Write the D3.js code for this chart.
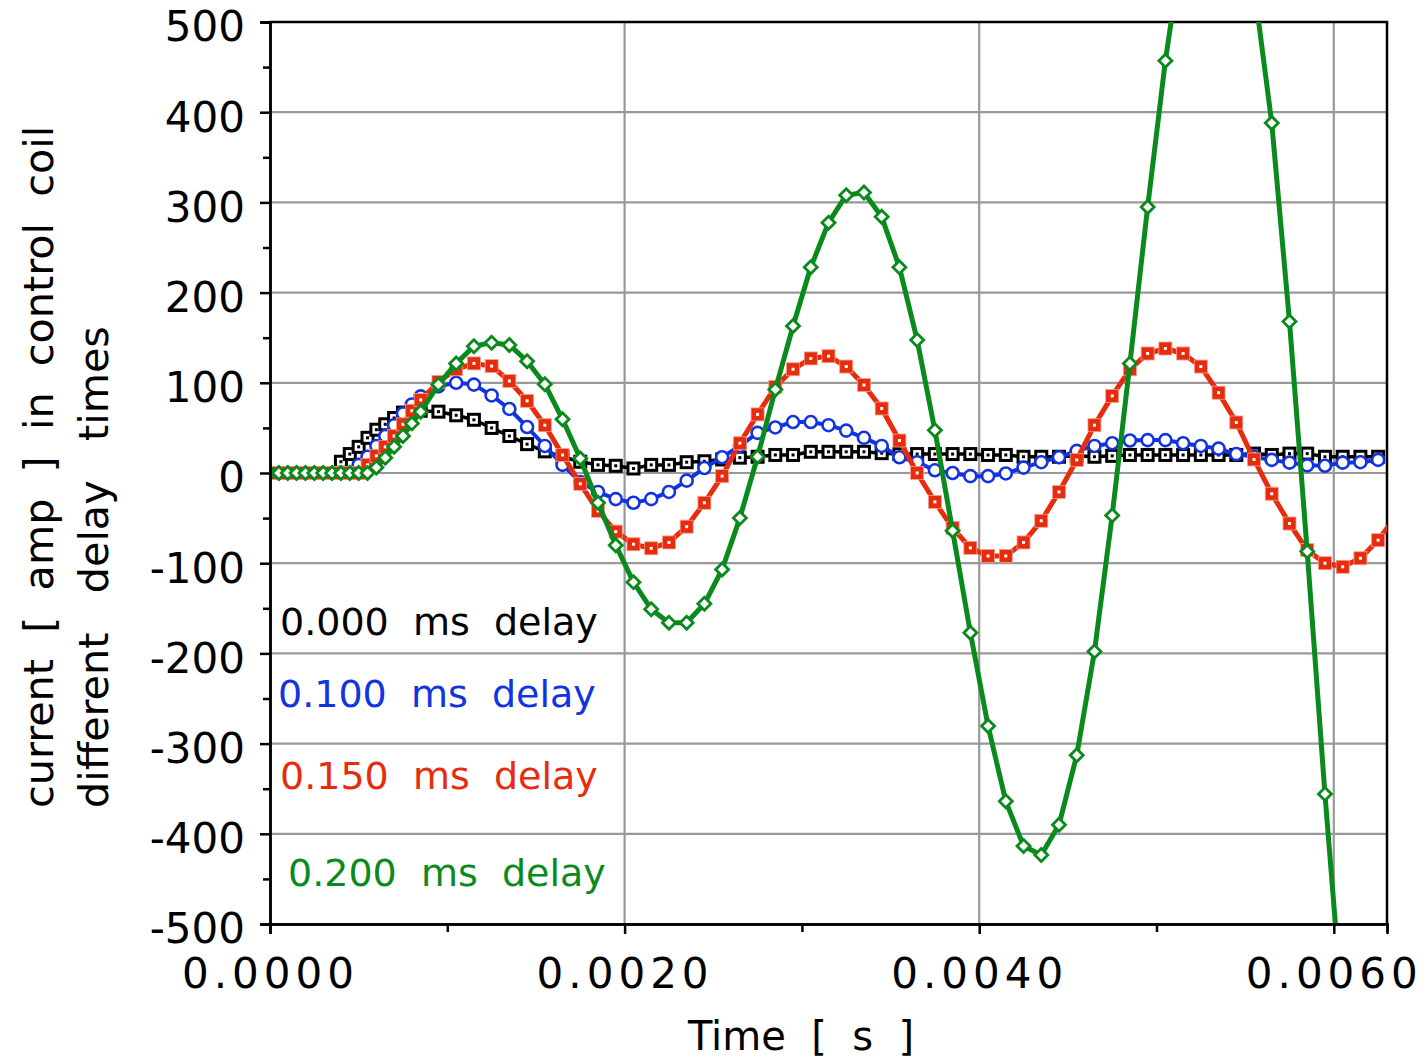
<!DOCTYPE html>
<html>
<head>
<meta charset="utf-8">
<script src="https://cdn.jsdelivr.net/npm/d3@7"></script>
<style>
  body { margin: 0; background: #fff; }
  text { font-family: "DejaVu Sans", sans-serif; white-space: pre; }
</style>
</head>
<body>
<div id="chart"></div>
<script>
// time in ms, current in amp
const delay000 = [
  [0,0],[0.05,0],[0.1,0],[0.15,0],[0.2,0],[0.25,0],[0.3,0],[0.35,0],
  [0.4,12.5],[0.45,21],[0.5,29],[0.55,39],[0.6,48],[0.65,54],[0.7,61],[0.75,67],
  [0.85,69],[0.95,68],[1.05,64],[1.15,59],[1.25,50],[1.35,41],[1.45,32],[1.55,24],[1.65,18],[1.75,12.5],
  [1.85,9],[1.95,8],[2.05,5],[2.15,9],[2.25,9],[2.35,12],[2.45,13],[2.55,15],[2.65,17],[2.75,18],
  [2.85,20],[2.95,20],[3.05,23.5],[3.15,23.5],[3.25,23.5],[3.35,23.5],[3.45,22],[3.55,21],[3.65,21],[3.75,21],
  [3.85,21],[3.95,21],[4.05,20],[4.15,20],[4.25,18],[4.35,18],[4.45,18],[4.55,19],[4.65,18],[4.75,19],
  [4.85,20],[4.95,20],[5.05,20],[5.15,20],[5.25,20],[5.35,20],[5.45,20],[5.55,21.5],[5.65,20],[5.75,21.5],
  [5.85,21.5],[5.95,18],[6.05,18],[6.15,18],[6.25,18]
];

const delay100 = [
  [0,0],[0.05,0],[0.1,0],[0.15,0],[0.2,0],[0.25,0],[0.3,0],[0.35,0],[0.4,0],[0.45,0],
  [0.5,9],[0.55,18],[0.6,30],[0.65,41],[0.7,53],[0.75,66],[0.8,76],[0.85,85],
  [0.95,96],[1.05,100],[1.15,98],[1.25,86],[1.35,71],[1.45,51],[1.55,30],[1.65,9],[1.75,-10],
  [1.85,-21],[1.95,-29],[2.05,-33],[2.15,-29],[2.25,-21],[2.35,-8.5],[2.45,5.5],[2.55,17.5],[2.65,30],[2.75,44.5],
  [2.85,50.5],[2.95,56.5],[3.05,56.5],[3.15,53],[3.25,47],[3.35,39],[3.45,30],[3.55,17.5],[3.65,12],[3.75,3],
  [3.85,0],[3.95,-3.5],[4.05,-3.5],[4.15,-0.5],[4.25,6],[4.35,12],[4.45,17.5],[4.55,24.5],[4.65,30],[4.75,33],
  [4.85,36],[4.95,36.5],[5.05,36.5],[5.15,33],[5.25,30],[5.35,27],[5.45,21],[5.55,18],[5.65,14.5],[5.75,11.5],
  [5.85,8.5],[5.95,8],[6.05,11.5],[6.15,12],[6.25,14.5]
];

const delay150 = [
  [0,0],[0.05,0],[0.1,0],[0.15,0],[0.2,0],[0.25,0],[0.3,0],[0.35,0],[0.4,0],[0.45,0],[0.5,0],
  [0.55,9],[0.6,19],[0.65,29],[0.7,41],[0.75,54],[0.8,69],[0.85,81],
  [0.95,101],[1.05,115],[1.15,121.5],[1.25,118.5],[1.35,102],[1.45,80],[1.55,53],[1.65,20],[1.75,-12],
  [1.85,-42],[1.95,-65],[2.05,-79],[2.15,-83.5],[2.25,-77],[2.35,-59.5],[2.45,-33],[2.55,-3.5],[2.65,33],[2.75,65],
  [2.85,95.5],[2.95,115],[3.05,127],[3.15,129.5],[3.25,118],[3.35,97.5],[3.45,71.5],[3.55,36],[3.65,0],[3.75,-32],
  [3.85,-61],[3.95,-83],[4.05,-92],[4.15,-92],[4.25,-77],[4.35,-53],[4.45,-21],[4.55,14.5],[4.65,53],[4.75,85.5],
  [4.85,115],[4.95,132.5],[5.05,138],[5.15,132.5],[5.25,118],[5.35,89],[5.45,56],[5.55,15],[5.65,-23],[5.75,-56],
  [5.85,-85.5],[5.95,-100],[6.05,-104],[6.15,-94.5],[6.25,-74.5],[6.35,-48]
];

const delay200 = [
  [0,0],[0.05,0],[0.1,0],[0.15,0],[0.2,0],[0.25,0],[0.3,0],[0.35,0],[0.4,0],[0.45,0],[0.5,0],[0.55,0],
  [0.6,6],[0.65,17],[0.7,29],[0.75,41],[0.8,55],[0.85,68],
  [0.95,98],[1.05,121.5],[1.15,140.5],[1.25,144.5],[1.35,142],[1.45,124],[1.55,98.5],[1.65,59.5],[1.75,16],
  [1.85,-33],[1.95,-80],[2.05,-121],[2.15,-151],[2.25,-166],[2.35,-166],[2.45,-145],[2.55,-107],[2.65,-50],[2.75,18],
  [2.85,92.5],[2.95,163],[3.05,228],[3.15,277.5],[3.25,308],[3.35,311],[3.45,284],[3.55,228],[3.65,147.5],[3.75,47.5],
  [3.85,-64],[3.95,-177],[4.05,-280.5],[4.15,-364],[4.25,-413.5],[4.35,-423.5],[4.45,-390],[4.55,-313],[4.65,-198],[4.75,-47],
  [4.85,121.5],[4.95,295],[5.05,457],[5.15,590],[5.25,660],[5.35,680],[5.45,640],[5.55,540],[5.65,388],[5.75,168],
  [5.85,-87],[5.95,-356],[6.05,-600]
];

const legendLabels = ["0.000  ms  delay", "0.100  ms  delay", "0.150  ms  delay", "0.200  ms  delay"];
const yTicks = [-500, -400, -300, -200, -100, 0, 100, 200, 300, 400, 500];
const yMinorTicks = [-450, -350, -250, -150, -50, 50, 150, 250, 350, 450];
const xTicks = [0, 0.002, 0.004, 0.006];
const xMinorTicks = [0.001, 0.003, 0.005];

const W = 1427, H = 1060;
const plotBox = {left: 270, right: 1387, top: 22, bottom: 924};

const svg = d3.select("#chart").append("svg")
    .attr("width", W)
    .attr("height", H);

svg.append("rect").attr("width", W).attr("height", H).attr("fill", "white");

const x = d3.scaleLinear().domain([0, 0.0063]).range([plotBox.left, plotBox.right]);
const y = d3.scaleLinear().domain([-500, 500]).range([plotBox.bottom, plotBox.top]);

// grid
svg.append("g").selectAll("line")
    .data(yTicks)
    .enter().append("line")
    .attr("x1", plotBox.left).attr("x2", plotBox.right)
    .attr("y1", d => y(d)).attr("y2", d => y(d))
    .attr("stroke", "#999").attr("stroke-width", 2.2);

svg.append("g").selectAll("line")
    .data(xTicks.slice(1))
    .enter().append("line")
    .attr("x1", d => x(d)).attr("x2", d => x(d))
    .attr("y1", plotBox.top).attr("y2", plotBox.bottom)
    .attr("stroke", "#999").attr("stroke-width", 2.2);

// frame top / right
svg.append("path")
    .attr("d", `M${plotBox.left},${plotBox.top}H${plotBox.right}V${plotBox.bottom}`)
    .attr("fill", "none")
    .attr("stroke", "black")
    .attr("stroke-width", 2.5);

// series
svg.append("clipPath").attr("id", "plotClip")
    .append("rect")
    .attr("x", plotBox.left).attr("y", plotBox.top)
    .attr("width", plotBox.right - plotBox.left).attr("height", plotBox.bottom - plotBox.top);

const plot = svg.append("g").attr("clip-path", "url(#plotClip)");

const line = d3.line()
    .x(d => x(d[0] / 1000))
    .y(d => y(d[1]));

const series = [
    {data: delay000, color: "black", width: 3.5, marker: "hollowSquare"},
    {data: delay100, color: "#1234e0", width: 4, marker: "circle"},
    {data: delay150, color: "#e62c0c", width: 5, marker: "filledSquare"},
    {data: delay200, color: "#0a8a1c", width: 5, marker: "diamond"}
];

series.forEach(s => {
    plot.append("path")
        .datum(s.data)
        .attr("d", line)
        .attr("fill", "none")
        .attr("stroke", s.color)
        .attr("stroke-width", s.width)
        .attr("stroke-linejoin", "round");

    let g = plot.append("g").selectAll("g")
        .data(s.data)
        .enter().append("g")
        .attr("transform", d => `translate(${x(d[0] / 1000)},${y(d[1])})`);

    if (s.marker === "hollowSquare") {
        g.append("rect")
            .attr("x", -5.5).attr("y", -5.5).attr("width", 11).attr("height", 11)
            .attr("fill", "white").attr("stroke", "black").attr("stroke-width", 3);
        g.append("rect")
            .attr("x", -1.5).attr("y", -1.5).attr("width", 3).attr("height", 3)
            .attr("fill", "black");
    } else if (s.marker === "circle") {
        g.append("circle")
            .attr("r", 6)
            .attr("fill", "white").attr("stroke", s.color).attr("stroke-width", 2.6);
    } else if (s.marker === "filledSquare") {
        g.append("rect")
            .attr("x", -6.5).attr("y", -6.5).attr("width", 13).attr("height", 13)
            .attr("fill", s.color).attr("stroke", "#f4a090").attr("stroke-width", 0.8);
        g.append("rect")
            .attr("x", -1.5).attr("y", -1.5).attr("width", 3).attr("height", 3)
            .attr("fill", "white");
    } else {
        g.append("path")
            .attr("d", "M0,-6.5L6.5,0L0,6.5L-6.5,0Z")
            .attr("fill", "white").attr("stroke", s.color).attr("stroke-width", 2.8);
    }
});

// axes
const yAxis = d3.axisLeft(y)
    .tickValues(yTicks)
    .tickSize(10)
    .tickPadding(15)
    .tickFormat(d => d.toString());

const yAxisGroup = svg.append("g")
    .attr("transform", `translate(${plotBox.left},0)`)
    .call(yAxis);

const yMinor = svg.append("g")
    .attr("transform", `translate(${plotBox.left},0)`)
    .call(d3.axisLeft(y).tickValues(yMinorTicks).tickSize(7).tickFormat(""));

const xAxis = d3.axisBottom(x)
    .tickValues(xTicks)
    .tickSize(10)
    .tickPadding(24)
    .tickFormat(d3.format(".4f"));

const xAxisGroup = svg.append("g")
    .attr("transform", `translate(0,${plotBox.bottom})`)
    .call(xAxis);

const xMinor = svg.append("g")
    .attr("transform", `translate(0,${plotBox.bottom})`)
    .call(d3.axisBottom(x).tickValues(xMinorTicks).tickSize(8).tickFormat(""));

[yAxisGroup, yMinor, xAxisGroup, xMinor].forEach(g => {
    g.select(".domain").attr("stroke", "black").attr("stroke-width", 2.5);
    g.selectAll(".tick line").attr("stroke", "black").attr("stroke-width", 2.5);
});

yAxisGroup.selectAll("text")
    .attr("fill", "black")
    .attr("dy", "0.45em")
    .style("font-size", "42px");

xAxisGroup.selectAll("text")
    .attr("fill", "black")
    .style("font-size", "42px")
    .style("letter-spacing", "5px");

// axis titles
svg.append("text")
    .attr("x", 801)
    .attr("y", 1050)
    .attr("text-anchor", "middle")
    .style("font-size", "40px")
    .text("Time  [  s  ]");

svg.append("text")
    .attr("transform", "translate(53,808) rotate(-90)")
    .style("font-size", "41.3px")
    .text("current  [  amp  ]  in  control  coil");

svg.append("text")
    .attr("transform", "translate(108,808) rotate(-90)")
    .style("font-size", "41.3px")
    .text("different   delay   times");

// legend text
const legendPos = [[280, 635], [278, 707], [280, 789], [288, 886]];
svg.append("g").selectAll("text")
    .data(legendLabels)
    .enter().append("text")
    .attr("x", (d, i) => legendPos[i][0])
    .attr("y", (d, i) => legendPos[i][1])
    .attr("fill", (d, i) => series[i].color)
    .style("font-size", "38px")
    .text(d => d);
</script>
</body>
</html>
